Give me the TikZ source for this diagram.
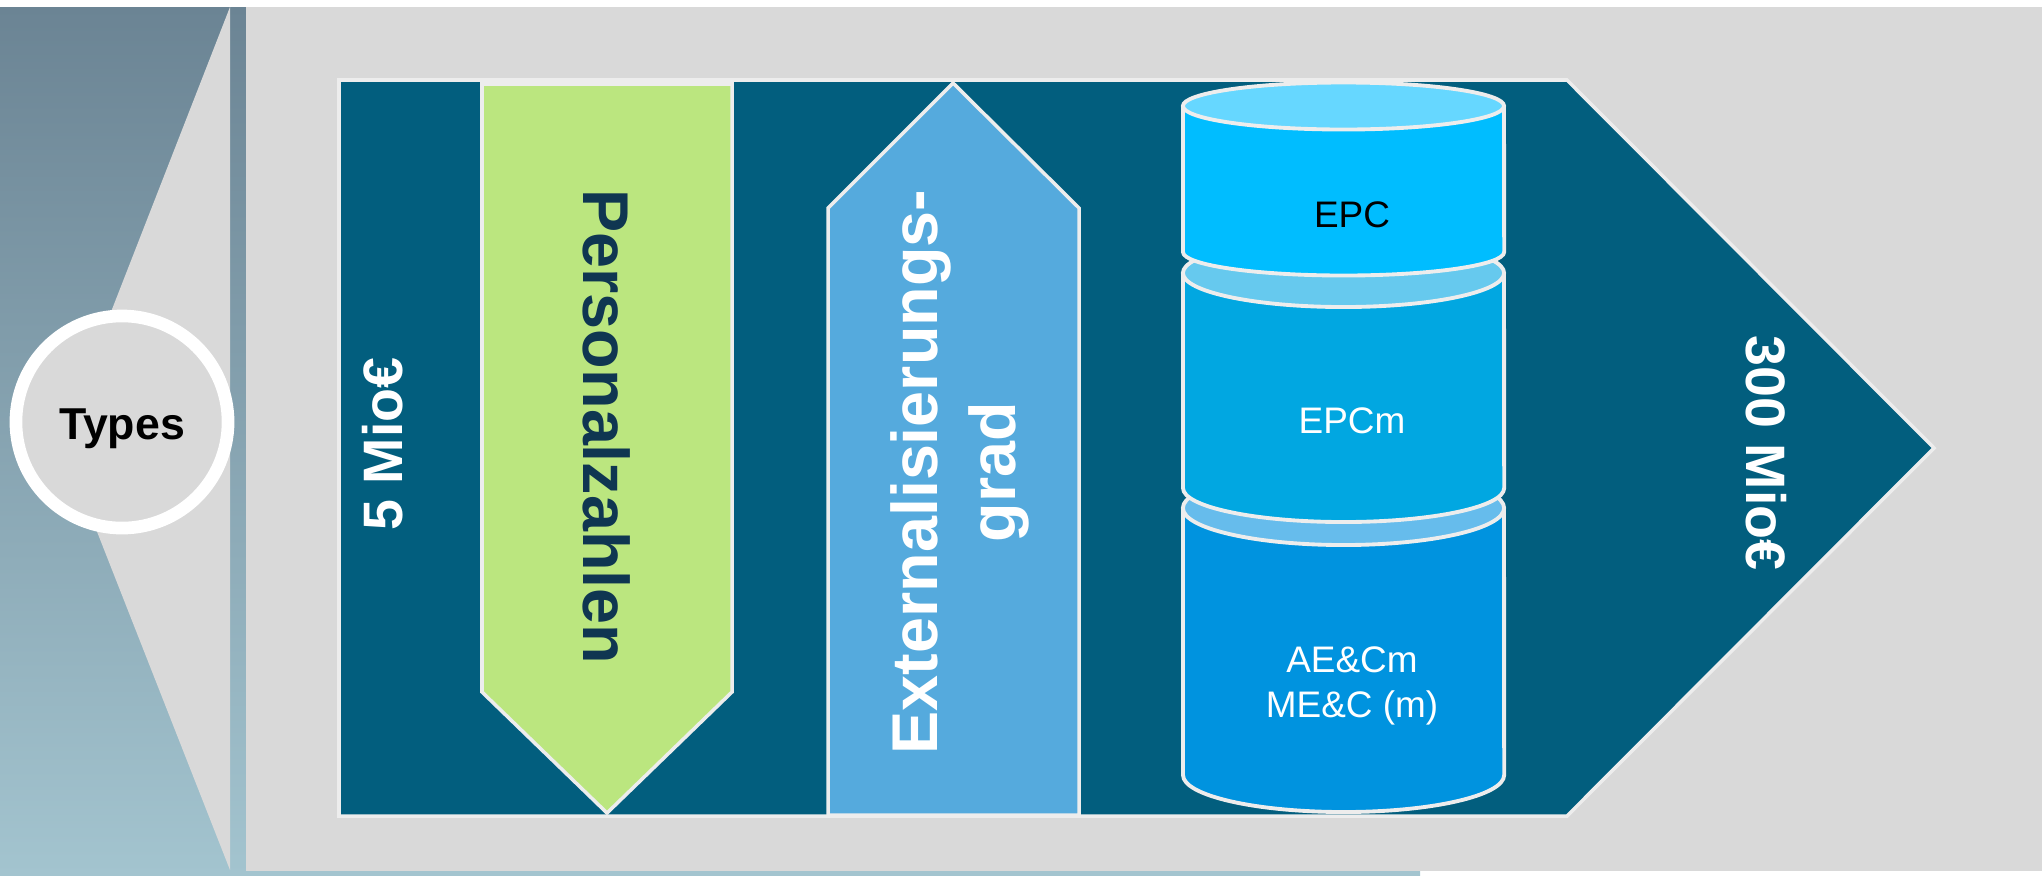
\documentclass[tikz,border=0pt]{standalone}
\usepackage{fontspec}
\setmainfont{Liberation Sans}
\usepackage{tikz}
\definecolor{gradTop}{HTML}{6B8494}
\definecolor{gradBot}{HTML}{A3C4CF}
\definecolor{bgGray}{HTML}{D9D9D9}
\definecolor{lineGray}{HTML}{EDEDED}
\definecolor{panelTeal}{HTML}{025E7E}
\definecolor{arrowGreen}{HTML}{BBE67F}
\definecolor{arrowBlue}{HTML}{55AADD}
\definecolor{textNavy}{HTML}{0F3651}
\definecolor{cylTopA}{HTML}{66D7FF}
\definecolor{cylBodyA}{HTML}{00BDFF}
\definecolor{cylTopB}{HTML}{66C9EE}
\definecolor{cylBodyB}{HTML}{01A7E1}
\definecolor{cylTopC}{HTML}{66BCEC}
\definecolor{cylBodyC}{HTML}{0093DF}
\tikzset{edge line/.style={draw=lineGray,line width=1pt}}
\tikzset{big label/.style={font=\bfseries\fontsize{18.4}{22}\selectfont,align=center,inner sep=0pt}}
\tikzset{mio label/.style={font=\bfseries\fontsize{15.8}{19}\selectfont,text=white,inner sep=0pt}}
\tikzset{cyl label/.style={font=\fontsize{10.5}{12.8}\selectfont,align=center,inner sep=0pt}}
\def\cylinder#1#2#3#4#5{%
  \filldraw[edge line,line width=1.1pt,line join=round,fill=#3] (1183,#1) -- (1183,#2)
    arc[start angle=180,end angle=360,x radius=1.605cm,y radius=#5cm] -- (1504,#1);
  \filldraw[edge line,line width=1.1pt,fill=#4] (1343.5,#1) ellipse[x radius=1.605cm,y radius=#5cm];
}

\begin{document}
\begin{tikzpicture}[x=0.01cm,y=-0.01cm]
            \useasboundingbox (0,0) rectangle (2042,875);

            %背景
            \shade[top color=gradTop,bottom color=gradBot] (0,7) rectangle (1420,875);
            \fill[bgGray] (230,7) -- (61,440) -- (230,870) -- cycle;
            \fill[bgGray] (246,7) rectangle (2042,871);

            %パネル
            \filldraw[edge line,fill=panelTeal] (339,80) -- (1567,80) -- (1934,448) -- (1567,816) -- (339,816) -- cycle;

            %矢印
            \filldraw[edge line,fill=arrowGreen] (482,84) -- (732,84) -- (732,692) -- (607,813) -- (482,692) -- cycle;
            \filldraw[edge line,fill=arrowBlue] (828,815) -- (828,208) -- (953,83) -- (1079,208) -- (1079,815) -- cycle;

            %円柱
            \cylinder{508}{775}{cylBodyC}{cylTopC}{0.37}
            \cylinder{273}{488}{cylBodyB}{cylTopB}{0.34}
            \cylinder{106}{252}{cylBodyA}{cylTopA}{0.235}

            %円
            \filldraw[draw=white,line width=3.6pt,fill=bgGray] (122,422) circle[radius=1.06cm];

            %ラベル
            \node[font=\bfseries\fontsize{12.7}{15}\selectfont,inner sep=0pt] (types) at (122,429) {Types};
            \node[mio label,rotate=90] (low) at (383,444) {5 Mio€};
            \node[mio label,rotate=-90] (high) at (1766,453) {300 Mio€};
            \node[big label,rotate=-90,text=textNavy] (staff) at (607,427) {Personalzahlen};
            \node[big label,rotate=90,text=white] (ext) at (960,472) {Externalisierungs-\\grad};
            \node[cyl label] (epc) at (1352,215) {EPC};
            \node[cyl label,text=white] (epcm) at (1352,421) {EPCm};
            \node[cyl label,text=white] (aec) at (1352,686) {AE\&Cm\\ME\&C (m)};

          \end{tikzpicture}
\end{document}
